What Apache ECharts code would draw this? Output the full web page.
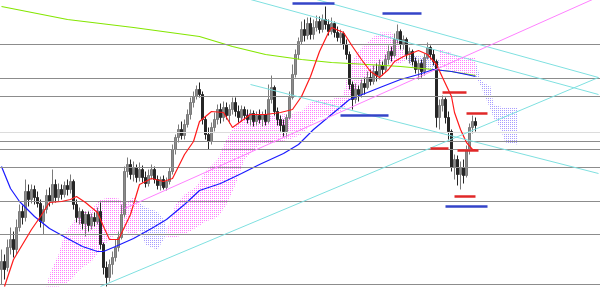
<!DOCTYPE html>
<html><head><meta charset="utf-8">
<script src="https://cdn.jsdelivr.net/npm/echarts@6/dist/echarts.min.js"></script>
<style>html,body{margin:0;padding:0;background:#fff}#c{width:600px;height:287px}</style>
</head><body><div id="c"></div>
<script>
// candles: [open, close, low, high]
const candles = [
[30,38,15,50],[38,30,20,45],[32,52,28,60],[52,60,45,72],[60,50,42,68],[50,72,45,80],[72,88,68,95],[88,82,75,94],[82,108,78,120],[108,100,93,115],
[100,110,96,115],[110,102,95,114],[102,96,92,108],[96,78,72,100],[78,90,65,94],[90,104,86,110],[104,98,93,112],[98,115,95,130],[115,102,97,120],[102,110,98,116],
[110,105,100,115],[105,114,102,118],[114,110,104,120],[110,118,106,125],[118,95,90,120],[95,82,77,100],[82,88,75,92],[88,76,70,90],[76,85,63,88],[85,74,68,88],
[74,82,70,86],[82,78,73,87],[78,88,75,92],[88,55,50,97],[55,32,25,57],[32,22,13,38],[22,35,18,40],[35,42,25,48],[42,52,38,60],[52,62,48,68],
[62,85,60,95],[85,128,82,133],[128,135,122,142],[135,125,120,140],[125,132,118,138],[132,122,117,135],[122,130,118,137],[130,122,117,134],[122,116,112,128],[116,124,113,130],
[124,130,120,135],[130,120,116,133],[120,114,110,124],[114,120,109,123],[120,112,110,124],[112,118,109,122],[118,128,115,132],[128,150,125,155],[150,162,145,165],[162,170,157,175],
[170,164,160,178],[164,175,160,180],[175,185,172,190],[185,197,180,202],[197,203,192,208],[203,210,200,214],[210,205,202,217],[205,180,175,208],[180,165,160,183],[165,158,150,172],
[158,172,155,177],[172,180,168,187],[180,190,175,195],[190,182,176,196],[182,192,178,198],[192,184,180,197],[184,190,176,195],[190,197,185,202],[197,188,183,202],[188,182,177,194],
[182,190,178,194],[190,184,180,193],[184,180,176,190],[180,186,174,190],[186,178,173,189],[178,184,174,188],[184,180,176,190],[180,185,173,188],[185,178,174,190],[178,200,176,215],
[200,212,196,224],[212,188,184,214],[188,180,174,192],[180,174,168,184],[174,168,163,180],[168,182,162,185],[182,202,180,208],[202,225,200,235],[225,245,222,250],[245,258,240,262],
[258,270,255,278],[270,264,258,280],[264,276,260,282],[276,265,260,282],[265,272,260,280],[272,278,268,284],[278,270,266,283],[270,280,267,285],[280,275,270,293],[275,268,264,280],
[268,276,265,282],[276,267,262,278],[267,262,258,273],[262,266,256,270],[266,255,250,268],[255,245,240,260],[245,215,210,248],[215,200,190,218],[200,210,196,216],[210,205,198,214],
[205,216,202,220],[216,212,205,222],[212,222,210,228],[222,218,214,230],[218,228,215,234],[228,224,218,236],[224,234,220,240],[234,230,224,238],[230,240,227,245],[240,248,235,254],
[248,244,238,253],[244,260,242,266],[260,268,256,275],[268,255,250,270],[255,260,250,264],[260,245,240,262],[245,248,236,252],[248,238,234,250],[238,230,226,242],[230,236,220,240],
[236,228,222,240],[228,242,224,246],[242,252,240,257],[252,245,240,254],[245,238,234,250],[238,182,172,240],[182,194,170,200],[194,200,188,204],[200,182,176,202],[182,168,160,188],
[168,132,128,170],[132,140,120,145],[140,125,114,144],[125,132,110,138],[132,124,116,140],[124,150,122,154],[150,172,145,176],[172,178,166,184],[178,174,168,182]
];
const categoryCount = 200;
const categories = Array.from({length: categoryCount}, (_, i) => String(i));

// moving averages: [candle index, value]
const maRed = [[1,13],[4,40],[10,70],[13,83],[16,97],[20,98],[23,100],[25,103],[28,97],[32,87],[34,73],[36,60],[39,60],[43,85],[46,115],[50,121],[54,118],[57,121],[61,145],[64,158],[66,178],[70,188],[74,187],[77,172],[83,185],[88,185],[93,187],[97,190],[100,203],[103,223],[106,248],[109,267],[110,272],[114,267],[117,253],[120,240],[123,228],[126,222],[129,230],[131,238],[134,243],[139,249],[142,245],[145,235],[147,222],[150,203],[151,187],[153,170],[155,157],[157,150],[158,150]];
const maBlue = [[0,133],[3,111],[6,98],[11,83],[16,71],[22,61],[27,53],[32,48],[34,48],[38,53],[44,61],[50,71],[55,80],[61,95],[66,109],[73,116],[80,126],[86,135],[94,146],[99,155],[104,170],[110,185],[116,200],[122,207],[127,213],[133,220],[139,225],[144,230],[150,228],[155,225],[158,223]];
const maGreen = [[0,293],[22,280],[44,272],[66,263],[77,253],[88,245],[100,240],[110,237],[122,235],[133,233],[144,230],[150,228],[158,224]];

// ichimoku cloud segments: [index, upper, lower]
const cloudPink = [
 [[15,13,13],[16,25,13],[19,45,13],[21,65,15],[24,78,22],[26,86,30],[30,90,38],[33,100,50],[36,102,60],[39,101,68],[41,95,70],[44,103,62],[46,97,70]],
 [[55,68,62],[58,95,62],[61,105,65],[65,113,72],[68,128,78],[72,140,82],[75,160,95],[78,175,115],[81,185,140],[86,187,155],[91,184,157],[96,186,160],[100,188,165],[103,197,175],[106,200,182],[110,200,185],[114,205,190],[116,235,200],[120,252,218],[123,260,227],[126,267,234],[130,267,237],[133,255,236],[135,242,240]],
 [[146,250,233],[149,248,230],[152,243,228],[155,242,226],[158,242,224]]
];
const cloudLavender = [
 [[46,97,70],[48,92,55],[50,90,52],[52,88,50],[54,80,60],[55,72,64]],
 [[135,242,240],[137,244,232],[140,243,230],[143,242,230],[146,240,233]],
 [[158,238,224],[160,218,212],[163,213,190],[164,195,182],[166,193,173],[168,192,157],[172,192,155]]
];

// horizontal levels
const levels = [255,221,203,158,150,132,98,65,15];
const lightLevels = [167];

// trend lines
const cyanLines = [
 [[33,13],[199,222]],
 [[83,215],[199,126]],
 [[83,300],[199,205]],
 [[105,300],[199,222]]
];
const pinkLines = [[[41,91],[197,300]]];

// short marker segments: [start index, end index, value]
const blueMarks = [[97,111,296],[127,140,286],[113,129,184],[148,162,93]];
const redMarks = [[147,155,207],[155,162,186],[143,149,151],[152,159,149],[151,158,103]];

function makePattern(color) {
  const c = document.createElement('canvas');
  c.width = 2; c.height = 2;
  const g = c.getContext('2d');
  g.fillStyle = '#ffffff';
  g.fillRect(0, 0, 2, 2);
  g.fillStyle = color;
  g.fillRect(0, 0, 1, 1);
  return {image: c, repeat: 'repeat'};
}
const pinkPat = makePattern('#ff7cff');
const lavPat = makePattern('#a89cff');

function cloudSeries(segs, pat) {
  return {
    type: 'custom', coordinateSystem: 'cartesian2d', silent: true, z: 1,
    data: segs.map(s => [s[0][0], s[0][1]]),
    renderItem: function (params, api) {
      const seg = segs[params.dataIndex];
      const top = seg.map(p => api.coord([p[0], p[1]]));
      const bot = seg.slice().reverse().map(p => api.coord([p[0], p[2]]));
      return {type: 'polygon', shape: {points: top.concat(bot)}, style: {fill: pat, stroke: null}};
    }
  };
}
function lineSeries(data, color, width, z) {
  return {type: 'line', data: data, symbol: 'none', silent: true, z: z,
    lineStyle: {color: color, width: width}, animation: false};
}

const series = [];
series.push({
  type: 'line', data: [], silent: true, z: 0,
  markLine: {silent: true, symbol: ['none', 'none'], label: {show: false}, animation: false,
    data: levels.map(v => ({yAxis: v, lineStyle: {color: '#8c8c8c', width: 1, type: 'solid'}}))
      .concat(lightLevels.map(v => ({yAxis: v, lineStyle: {color: '#dcdcdc', width: 1, type: 'solid'}})))}
});
series.push(cloudSeries(cloudPink, pinkPat));
series.push(cloudSeries(cloudLavender, lavPat));
series.push({
  type: 'candlestick', data: candles, barWidth: 2, z: 3, silent: true,
  itemStyle: {color: '#8c8c8c', color0: '#262626', borderColor: '#7a7a7a', borderColor0: '#262626', borderWidth: 1}
});
series.push(lineSeries(maGreen, '#84e600', 1.2, 4));
series.push(lineSeries(maBlue, '#1a1aff', 1.2, 4));
series.push(lineSeries(maRed, '#ff1a1a', 1.2, 5));
cyanLines.forEach(l => series.push(lineSeries(l, '#7fe0e0', 1, 6)));
pinkLines.forEach(l => series.push(lineSeries(l, '#ff80ff', 1, 6)));
blueMarks.forEach(m => series.push(lineSeries([[m[0], m[2]], [m[1], m[2]]], '#3444c8', 2.5, 7)));
redMarks.forEach(m => series.push(lineSeries([[m[0], m[2]], [m[1], m[2]]], '#e02828', 2.5, 7)));

const chart = echarts.init(document.getElementById('c'), null, {renderer: 'canvas'});
chart.setOption({
  animation: false,
  backgroundColor: '#ffffff',
  grid: {left: 0, right: 0, top: 0, bottom: 0, containLabel: false},
  xAxis: {type: 'category', data: categories, boundaryGap: true, show: false},
  yAxis: {type: 'value', min: 12.5, max: 299.5, show: false, scale: true},
  series: series
});
</script></body></html>
